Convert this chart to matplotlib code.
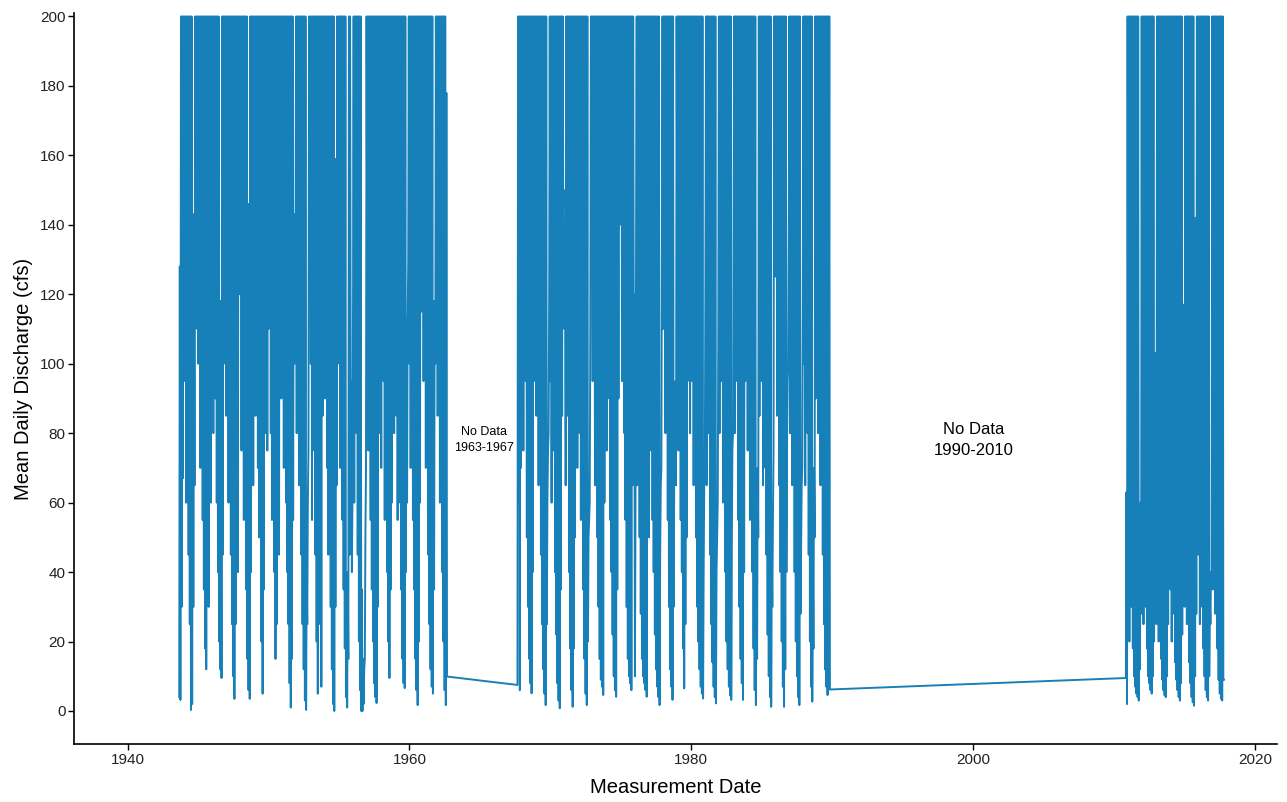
import numpy as np
import pandas as pd
import matplotlib
matplotlib.use('Agg')
import matplotlib.pyplot as plt
import matplotlib.dates as mdates
from datetime import datetime

plt.rcParams['font.family'] = ['Liberation Sans', 'DejaVu Sans']

# Débit moyen journalier (cfs), résumé par mois :
# pour chaque mois le minimum (listes "bas_*") et le maximum (200 = plafond de l'axe,
# sauf les mois listés dans "haut_sous_200").
# Période 1 : sept. 1943 -> sept. 1962 (une ligne = une année, janv.-déc.)
debut_1 = '1943-09-01'
bas_1 = [
    [4, 3.2, 30, 67],                                       # 1943 (sept-déc)
    [95, 120, 60, 110, 45, 25, 0.3, 2, 30, 65, 110, 140],   # 1944
    [100, 150, 70, 130, 55, 35, 18, 12, 40, 30, 95, 60],    # 1945
    [120, 80, 150, 90, 60, 40, 20, 12, 9.5, 45, 100, 130],  # 1946
    [85, 140, 60, 110, 45, 25, 10, 3.5, 25, 70, 40, 120],   # 1947
    [150, 75, 125, 55, 90, 35, 15, 6, 3.5, 40, 110, 65],    # 1948
    [140, 85, 150, 70, 50, 90, 20, 5, 35, 80, 130, 75],     # 1949
    [110, 160, 80, 55, 120, 40, 15, 25, 60, 45, 140, 90],   # 1950
    [150, 70, 130, 60, 40, 25, 8, 1, 15, 55, 100, 130],     # 1951
    [80, 140, 65, 110, 45, 25, 12, 3, 0.3, 25, 75, 120],    # 1952
    [100, 55, 140, 75, 45, 20, 5, 50, 25, 7, 85, 130],      # 1953
    [90, 150, 70, 45, 110, 30, 12, 2, 0, 30, 65, 100],      # 1954
    [140, 70, 110, 55, 35, 18, 4, 1, 15, 45, 90, 40],       # 1955
    [120, 60, 145, 80, 45, 20, 6, 0, 0, 2, 15, 70],         # 1956
    [130, 75, 110, 55, 35, 20, 8, 4, 2.3, 30, 80, 140],     # 1957
    [70, 155, 95, 55, 120, 40, 20, 9.5, 35, 60, 115, 80],   # 1958
    [145, 85, 55, 120, 60, 35, 15, 8, 6.6, 40, 60, 129],    # 1959
    [100, 70, 140, 55, 35, 15, 6, 1.7, 20, 60, 115, 150],   # 1960
    [95, 140, 70, 110, 45, 25, 12, 7, 5, 35, 100, 145],     # 1961
    [85, 125, 60, 100, 40, 20, 6, 1.7, 9.9],                # 1962 (janv-sept)
]

# Période 2 : sept. 1967 -> nov. 1989
debut_2 = '1967-09-01'
bas_2 = [
    [7.5, 60, 6, 70],                                       # 1967 (sept-déc)
    [130, 75, 160, 95, 50, 30, 15, 8, 5.1, 40, 95, 130],    # 1968
    [85, 140, 65, 110, 45, 25, 12, 5, 1.7, 25, 75, 120],    # 1969
    [95, 60, 135, 75, 40, 22, 8, 3, 0.8, 35, 85, 145],      # 1970
    [110, 65, 140, 85, 40, 18, 6, 1.2, 18, 50, 100, 70],    # 1971
    [125, 80, 55, 115, 35, 15, 5, 1.7, 20, 55, 110, 150],   # 1972
    [95, 150, 65, 110, 50, 30, 15, 9, 7, 4.6, 60, 120],     # 1973
    [75, 130, 90, 55, 40, 22, 10, 6, 4.1, 35, 90, 140],     # 1974
    [150, 95, 168, 80, 55, 30, 15, 10, 8, 6, 65, 115],      # 1975
    [10, 140, 65, 110, 50, 28, 15, 10, 8, 6, 4.1, 75],      # 1976
    [50, 120, 75, 55, 40, 22, 12, 7, 4, 1.7, 65, 130],      # 1977
    [110, 155, 80, 130, 55, 30, 12, 7, 3.2, 30, 90, 65],    # 1978
    [135, 75, 120, 55, 40, 18, 6.5, 25, 50, 95, 140, 80],   # 1979
    [95, 150, 65, 115, 50, 30, 20, 12, 7, 5, 3.6, 65],      # 1980
    [125, 65, 135, 80, 45, 25, 14, 7, 4, 2.2, 50, 110],     # 1981
    [80, 160, 95, 60, 130, 40, 20, 12, 7, 4.5, 3.2, 75],    # 1982
    [140, 80, 165, 95, 55, 30, 15, 8, 3.2, 40, 95, 145],    # 1983
    [75, 125, 55, 95, 40, 18, 6, 1.7, 15, 50, 85, 130],     # 1984
    [95, 65, 140, 70, 45, 22, 10, 4, 1.2, 30, 75, 125],     # 1985
    [155, 85, 130, 65, 40, 20, 7, 1.2, 12, 40, 95, 140],    # 1986
    [80, 130, 65, 110, 40, 20, 10, 4, 1.7, 28, 65, 115],    # 1987
    [100, 65, 150, 80, 45, 20, 7, 2.7, 18, 50, 90, 135],    # 1988
    [80, 130, 65, 120, 45, 25, 12, 7, 4.6, 40, 6.2],        # 1989 (janv-nov)
]

# Période 3 : nov. 2010 -> oct. 2017
debut_3 = '2010-11-01'
bas_3 = [
    [9.5, 2],                                               # 2010 (nov-déc)
    [35, 20, 60, 30, 18, 10, 7, 5, 4, 3, 12, 28],           # 2011
    [45, 25, 70, 30, 18, 10, 8, 6, 5, 10, 20, 35],          # 2012
    [25, 55, 20, 40, 15, 9, 6, 4.5, 4, 10, 25, 50],         # 2013
    [35, 20, 55, 28, 14, 9, 6, 4, 3, 8, 22, 40],            # 2014
    [30, 65, 25, 45, 14, 8, 4, 2.5, 1.5, 10, 28, 50],       # 2015
    [45, 25, 60, 30, 18, 10, 6, 4, 3, 10, 25, 40],          # 2016
    [35, 65, 28, 45, 18, 9, 5, 3.5, 3, 9],                  # 2017 (janv-oct)
]

# Mois dont le maximum reste sous le plafond de 200 (fentes blanches en haut)
haut_sous_200 = {
    '1943-09': 128, '1944-08': 143, '1944-09': 143, '1946-07': 118, '1946-08': 118,
    '1948-07': 146, '1948-08': 146, '1951-10': 143, '1951-11': 143,
    '1952-09': 40, '1952-10': 60, '1954-09': 159, '1954-10': 159,
    '1955-07': 30, '1955-08': 40, '1955-11': 95, '1955-12': 60,
    '1956-08': 35, '1956-09': 15, '1956-10': 12, '1956-11': 50,
    '1959-10': 113, '1959-11': 113, '1961-09': 118, '1961-10': 118,
    '1962-08': 178, '1962-09': 9.9,
    '1969-10': 60, '1969-11': 80, '1970-12': 150, '1971-01': 141,
    '1972-09': 50, '1972-10': 60, '1975-12': 120, '1976-01': 60,
    '1977-10': 45, '1977-11': 70, '1978-10': 70, '1978-11': 95,
    '1980-11': 40, '1980-12': 70, '1981-10': 40, '1981-11': 60,
    '1982-11': 50, '1982-12': 80, '1984-08': 50, '1984-09': 70,
    '1985-09': 45, '1985-10': 55, '1986-10': 75, '1986-11': 100,
    '1987-10': 45, '1987-11': 70, '1988-08': 45, '1988-09': 70, '1989-11': 6.2,
    '2010-11': 63, '2011-10': 40, '2011-11': 60, '2012-11': 103, '2012-12': 103,
    '2014-11': 117, '2014-12': 117, '2015-09': 142, '2015-10': 142,
    '2016-10': 33, '2016-11': 40, '2017-10': 9,
}

# Annotations des périodes sans données
textes_gap = ['No Data\n1963-1967', 'No Data\n1990-2010']
x_gap = [datetime(1965, 4, 15), datetime(2000, 1, 20)]
y_gap = [78, 78]
taille_gap = [9, 12]


def serie(debut, lignes):
    v_bas = np.concatenate([np.array(l, dtype=float) for l in lignes])
    mois = pd.date_range(debut, periods=len(v_bas), freq='MS')
    v_haut = np.full(len(v_bas), 200.0)
    for i, m in enumerate(mois.strftime('%Y-%m')):
        if m in haut_sous_200:
            v_haut[i] = haut_sous_200[m]
    # minimum en début de mois, maximum au milieu du mois
    d = np.empty(2 * len(mois), dtype='datetime64[ns]')
    d[0::2] = mois.values
    d[1::2] = (mois + pd.Timedelta(days=15)).values
    v = np.empty(2 * len(mois))
    v[0::2] = v_bas
    v[1::2] = v_haut
    return pd.Series(v, index=pd.DatetimeIndex(d))


data = pd.concat([serie(debut_1, bas_1), serie(debut_2, bas_2), serie(debut_3, bas_3)])

fig = plt.figure(figsize=(12.87, 8.02), dpi=100)
ax = fig.add_axes([0.0575, 0.0719, 0.9347, 0.9119])

ax.plot(data.index, data.values, color='#1880b8', lw=1.4)

for t, x, y, s in zip(textes_gap, x_gap, y_gap, taille_gap):
    ax.text(x, y, t, ha='center', va='center', fontsize=s, linespacing=1.45, color='black')

ax.set_ylim(-9.6, 201)
ax.set_xlim(datetime(1936, 3, 14), datetime(2021, 7, 22))
ax.set_yticks(np.arange(0, 201, 20))
ax.set_xticks([datetime(a, 1, 1) for a in [1940, 1960, 1980, 2000, 2020]])
ax.xaxis.set_major_formatter(mdates.DateFormatter('%Y'))

ax.spines['top'].set_visible(False)
ax.spines['right'].set_visible(False)
ax.spines['left'].set_linewidth(1.2)
ax.spines['bottom'].set_linewidth(1.2)
ax.tick_params(length=4, width=1, labelsize=11, pad=2, colors='black', labelcolor='#222222')

ax.set_xlabel('Measurement Date', fontsize=14.5, labelpad=8)
ax.set_ylabel('Mean Daily Discharge (cfs)', fontsize=14.5, labelpad=5)

fig.savefig('out.png', dpi=100)
